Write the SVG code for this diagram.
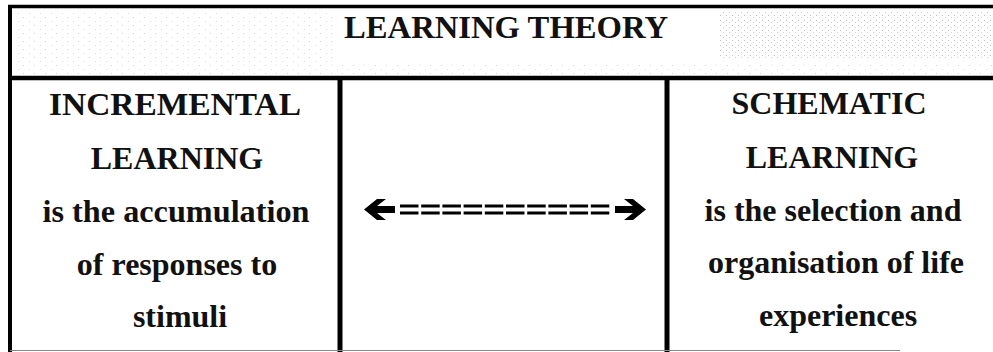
<svg xmlns="http://www.w3.org/2000/svg" width="993" height="352" viewBox="0 0 993 352">
  <style>
    text { font-family: 'Liberation Serif', 'DejaVu Serif', serif; font-weight: 700; fill: #111; text-anchor: middle; font-size: 32px; }
  </style>
  <defs>
    <pattern id="speck" width="11" height="8" patternUnits="userSpaceOnUse">
      <rect x="1" y="1" width="1" height="1" fill="#777"/>
      <rect x="7" y="5" width="1" height="1" fill="#999"/>
    </pattern>
    <pattern id="speckDense" width="6" height="5" patternUnits="userSpaceOnUse">
      <rect x="0" y="0" width="1" height="1" fill="#666"/>
      <rect x="3" y="2" width="1" height="1" fill="#888"/>
    </pattern>
  </defs>

  <rect width="993" height="352" fill="#fff"/>

  <g id="header">
    <rect x="14" y="12" width="320" height="50" fill="url(#speck)" opacity="0.35"/>
    <rect x="14" y="64" width="979" height="10" fill="url(#speck)" opacity="0.3"/>
    <rect x="720" y="12" width="273" height="46" fill="url(#speckDense)" opacity="0.4"/>
    <text x="506" y="38" textLength="324" lengthAdjust="spacingAndGlyphs">LEARNING THEORY</text>
  </g>

  <g id="frame" stroke="#000" fill="none">
    <line x1="8" y1="6.5" x2="993" y2="6.5" stroke-width="3.5"/>
    <line x1="10" y1="5" x2="10" y2="352" stroke-width="4"/>
    <line x1="8" y1="78" x2="993" y2="78" stroke-width="4.5"/>
    <line x1="340" y1="76" x2="340" y2="352" stroke-width="5"/>
    <line x1="667" y1="76" x2="667" y2="352" stroke-width="5"/>
    <line x1="10" y1="350.5" x2="900" y2="350.5" stroke="#888" stroke-width="1"/>
  </g>

  <g id="incremental">
    <text x="175" y="115" textLength="252" lengthAdjust="spacingAndGlyphs">INCREMENTAL</text>
    <text x="177" y="169">LEARNING</text>
    <text x="176" y="222" textLength="267" lengthAdjust="spacingAndGlyphs">is the accumulation</text>
    <text x="177" y="275">of responses to</text>
    <text x="180" y="327">stimuli</text>
  </g>

  <g id="schematic">
    <text x="829" y="114">SCHEMATIC</text>
    <text x="832" y="168">LEARNING</text>
    <text x="833" y="221">is the selection and</text>
    <text x="836" y="273">organisation of life</text>
    <text x="838" y="326">experiences</text>
  </g>

  <g id="connectors">
    <line x1="400" y1="206" x2="612" y2="206" stroke="#000" stroke-width="3.2" stroke-dasharray="18.5 2.7"/>
    <line x1="400" y1="213" x2="612" y2="213" stroke="#000" stroke-width="3.2" stroke-dasharray="18.5 2.7"/>
    <polygon points="364,209.5 377,199 386,199 377,206 395,206 395,213 377,213 386,220 377,220" fill="#000"/>
    <polygon points="646,209.5 633,199 624,199 633,206 615,206 615,213 633,213 624,220 633,220" fill="#000"/>
  </g>
</svg>
